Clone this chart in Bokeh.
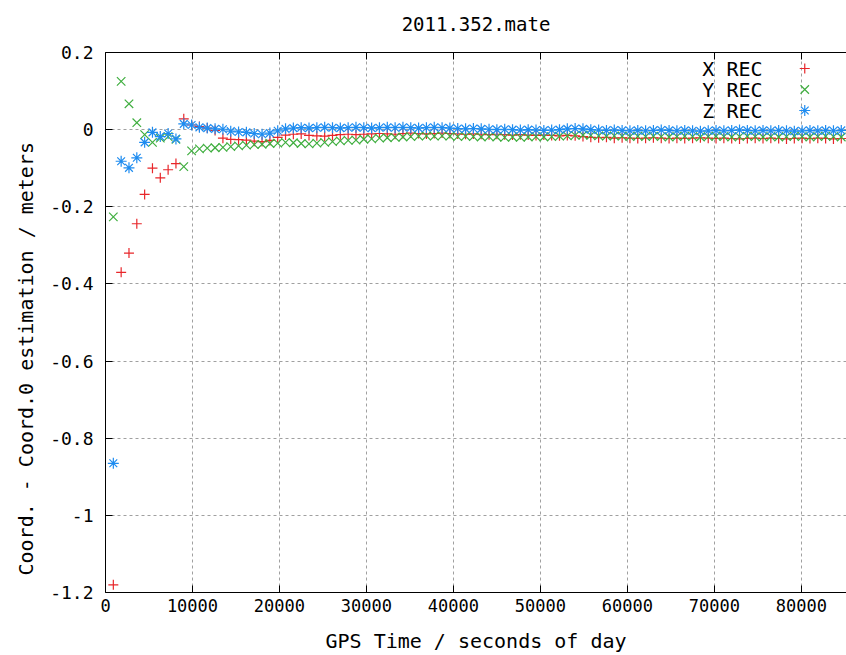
from bokeh.plotting import figure
from bokeh.models import FixedTicker, LinearAxis, Range1d, Label, Title
from bokeh.embed import file_html
from bokeh.resources import INLINE

title_text = "2011.352.mate"
x_label = "GPS Time / seconds of day"
y_label = "Coord. - Coord.0 estimation / meters"
series_names = ["X REC", "Y REC", "Z REC"]

x_ticks = [0, 10000, 20000, 30000, 40000, 50000, 60000, 70000, 80000]
y_ticks = [-1.2, -1.0, -0.8, -0.6, -0.4, -0.2, 0.0, 0.2]
y_tick_labels = ["-1.2", "-1", "-0.8", "-0.6", "-0.4", "-0.2", "0", "0.2"]

gps_time = [
    900, 1800, 2700, 3600, 4500, 5400, 6300, 7200, 8100, 9000,
    9900, 10800, 11700, 12600, 13500, 14400, 15300, 16200, 17100, 18000,
    18900, 19800, 20700, 21600, 22500, 23400, 24300, 25200, 26100, 27000,
    27900, 28800, 29700, 30600, 31500, 32400, 33300, 34200, 35100, 36000,
    36900, 37800, 38700, 39600, 40500, 41400, 42300, 43200, 44100, 45000,
    45900, 46800, 47700, 48600, 49500, 50400, 51300, 52200, 53100, 54000,
    54900, 55800, 56700, 57600, 58500, 59400, 60300, 61200, 62100, 63000,
    63900, 64800, 65700, 66600, 67500, 68400, 69300, 70200, 71100, 72000,
    72900, 73800, 74700, 75600, 76500, 77400, 78300, 79200, 80100, 81000,
    81900, 82800, 83700, 84600,
]

x_rec = [
    -1.18, -0.37, -0.32, -0.244, -0.168, -0.100, -0.125, -0.104, -0.088, 0.028,
    0.012, 0.008, 0.004, -0.002, -0.022, -0.025, -0.026, -0.027, -0.030, -0.031,
    -0.028, -0.020, -0.014, -0.012, -0.011, -0.015, -0.016, -0.017, -0.015, -0.013,
    -0.012, -0.013, -0.012, -0.011, -0.010, -0.011, -0.012, -0.010, -0.009, -0.010,
    -0.011, -0.010, -0.009, -0.010, -0.011, -0.012, -0.011, -0.012, -0.013, -0.012,
    -0.013, -0.014, -0.013, -0.014, -0.015, -0.014, -0.015, -0.016, -0.015, -0.016,
    -0.018, -0.020, -0.021, -0.020, -0.022, -0.021, -0.022, -0.023, -0.022, -0.021,
    -0.022, -0.023, -0.022, -0.023, -0.022, -0.021, -0.022, -0.023, -0.022, -0.023,
    -0.024, -0.023, -0.022, -0.023, -0.022, -0.023, -0.024, -0.023, -0.022, -0.023,
    -0.022, -0.023, -0.024, -0.023,
]

y_rec = [
    -0.226, 0.125, 0.067, 0.018, -0.013, -0.033, -0.022, -0.018, -0.025, -0.096,
    -0.055, -0.050, -0.048, -0.047, -0.046, -0.044, -0.042, -0.040, -0.039, -0.038,
    -0.036, -0.035, -0.033, -0.034, -0.036, -0.037, -0.035, -0.033, -0.031, -0.029,
    -0.028, -0.027, -0.025, -0.024, -0.022, -0.021, -0.020, -0.019, -0.018, -0.017,
    -0.016, -0.017, -0.016, -0.017, -0.018, -0.017, -0.018, -0.019, -0.018, -0.019,
    -0.020, -0.019, -0.020, -0.019, -0.018, -0.019, -0.018, -0.017, -0.016, -0.015,
    -0.014, -0.015, -0.016, -0.017, -0.016, -0.017, -0.018, -0.017, -0.018, -0.017,
    -0.018, -0.019, -0.018, -0.017, -0.018, -0.019, -0.018, -0.017, -0.018, -0.019,
    -0.018, -0.017, -0.018, -0.019, -0.018, -0.019, -0.018, -0.017, -0.018, -0.019,
    -0.018, -0.017, -0.018, -0.019,
]

z_rec = [
    -0.865, -0.082, -0.099, -0.073, -0.033, -0.007, -0.018, -0.010, -0.024, 0.015,
    0.012, 0.006, 0.004, 0.002, 0.001, -0.004, -0.006, -0.007, -0.010, -0.012,
    -0.009, -0.003, 0.002, 0.004, 0.005, 0.004, 0.005, 0.006, 0.005, 0.004,
    0.005, 0.006, 0.005, 0.004, 0.005, 0.006, 0.005, 0.006, 0.005, 0.004,
    0.005, 0.006, 0.005, 0.004, 0.003, 0.002, 0.003, 0.002, 0.001, 0.000,
    0.001, 0.000, -0.001, 0.000, -0.001, -0.002, -0.001, 0.000, 0.002, 0.003,
    0.002, 0.000, -0.001, -0.002, -0.001, -0.002, -0.003, -0.002, -0.003, -0.002,
    -0.001, -0.002, -0.003, -0.002, -0.003, -0.004, -0.003, -0.002, -0.003, -0.002,
    -0.001, -0.002, -0.003, -0.002, -0.003, -0.002, -0.003, -0.004, -0.003, -0.002,
    -0.003, -0.002, -0.003, -0.002,
]

FONT = "DejaVu Sans Mono"
colors = ["#e8262a", "#3fae3f", "#1e8cf0"]
markers = ["cross", "x", "asterisk"]
sizes = [10, 12, 11]

p = figure(width=846, height=655, output_backend="svg", toolbar_location=None,
           x_range=Range1d(0, 85200), y_range=Range1d(-1.2, 0.2),
           min_border_left=105, min_border_top=52, min_border_bottom=63,
           min_border_right=0, x_axis_label=x_label)
p.outline_line_color = None
p.background_fill_color = "white"
p.title.visible = False

p.xaxis.ticker = FixedTicker(ticks=x_ticks)
p.xaxis.major_label_overrides = {t: str(t) for t in x_ticks}
p.yaxis.ticker = FixedTicker(ticks=y_ticks)
p.yaxis.major_label_overrides = {t: l for t, l in zip(y_ticks, y_tick_labels)}

for ax in (p.xaxis[0], p.yaxis[0]):
    ax.major_tick_in = 7
    ax.major_tick_out = 0
    ax.minor_tick_line_color = None
    ax.axis_line_color = "black"
    ax.major_tick_line_color = "black"
    ax.major_label_text_font = FONT
    ax.major_label_text_color = "black"
    ax.axis_label_text_font = FONT
    ax.axis_label_text_font_size = "20px"
    ax.axis_label_text_font_style = "normal"
    ax.axis_label_text_color = "black"

p.xaxis.major_label_text_font_size = "17px"
p.yaxis.major_label_text_font_size = "18px"
p.xaxis.major_label_standoff = 6
p.xaxis.axis_label_standoff = 14
p.yaxis.major_label_standoff = 12

# y title as a side title, starting above the frame bottom like gnuplot's ylabel
p.add_layout(Title(text=y_label, align="left", offset=17, standoff=20,
                   text_font=FONT, text_font_size="20px", text_font_style="normal",
                   text_color="black"), "left")

# top border with mirrored ticks; its axis label carries the chart title
top = LinearAxis(ticker=FixedTicker(ticks=x_ticks), major_tick_in=7, major_tick_out=0,
                 minor_tick_line_color=None, major_label_text_color=None,
                 major_label_text_font_size="1px", major_label_standoff=0,
                 axis_line_color="black", axis_label=title_text,
                 axis_label_text_font=FONT, axis_label_text_font_size="19px",
                 axis_label_text_font_style="normal", axis_label_text_color="black",
                 axis_label_standoff=18)
p.add_layout(top, "above")

p.grid.grid_line_color = "#a0a0a0"
p.grid.grid_line_dash = "3 3"
p.grid.grid_line_width = 1

for ys, c, m, s in zip([x_rec, y_rec, z_rec], colors, markers, sizes):
    p.scatter(gps_time, ys, marker=m, size=s, line_color=c, line_width=1.2, fill_color=None)

# legend (gnuplot style: text then symbol)
leg_y = [0.1585, 0.104, 0.0496]
for name, c, m, s, ly in zip(series_names, colors, markers, sizes, leg_y):
    p.add_layout(Label(x=75550, y=ly, text=name, text_align="right", text_baseline="middle",
                       text_font=FONT, text_font_size="20px", text_color="black"))
    p.scatter([80400], [ly], marker=m, size=s, line_color=c, line_width=1.2, fill_color=None)

open("out.html", "w").write(file_html(p, INLINE))
